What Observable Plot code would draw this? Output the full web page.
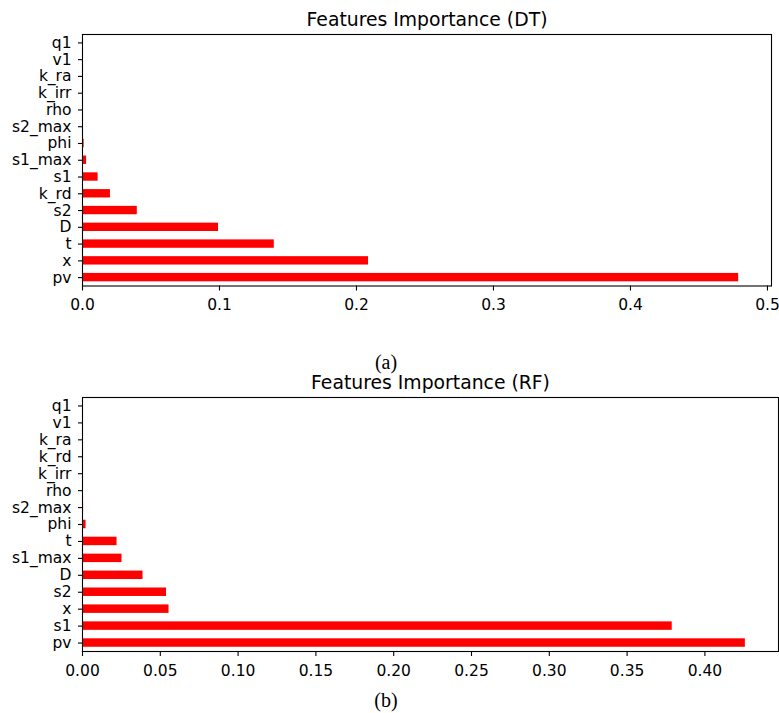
<!DOCTYPE html>
<html><head><meta charset="utf-8">
<script src="https://cdn.jsdelivr.net/npm/d3@7"></script>
<script src="https://cdn.jsdelivr.net/npm/@observablehq/plot@0.6"></script>
<style>
body{margin:0;background:#fff;}
#wrap{position:relative;width:779px;height:713px;background:#fff;}
.chart{position:absolute;left:0;}
.cap{position:absolute;font-family:"Liberation Serif","DejaVu Serif",serif;font-size:20px;line-height:20px;transform:translateX(-50%);white-space:nowrap;color:#000;}
</style></head><body><div id="wrap"></div>
<script>
// Decision Tree feature importances (top to bottom)
const featuresDT = ["q1","v1","k_ra","k_irr","rho","s2_max","phi","s1_max","s1","k_rd","s2","D","t","x","pv"];
const valuesDT   = [0.0,0.0,0.0,0.0,0.0002,0.0003,0.0012,0.003,0.0114,0.0204,0.040,0.0993,0.140,0.2088,0.479];
const ticksDT = [0,0.1,0.2,0.3,0.4,0.5];

// Random Forest feature importances (top to bottom)
const featuresRF = ["q1","v1","k_ra","k_rd","k_irr","rho","s2_max","phi","t","s1_max","D","s2","x","s1","pv"];
const valuesRF   = [0.0001,0.0001,0.0002,0.0002,0.0002,0.0003,0.0007,0.0023,0.0222,0.0254,0.0389,0.054,0.0556,0.379,0.426];
const ticksRF = [0,0.05,0.10,0.15,0.20,0.25,0.30,0.35,0.40];

const titleDT = "Features Importance (DT)";
const titleRF = "Features Importance (RF)";

function chart({features, values, ticks, fmt, title, height, marginTop, marginBottom, marginRight}) {
  const data = features.map((f, i) => ({feature: f, value: values[i]}));
  const xmax = d3.max(values) * 1.05;
  return Plot.plot({
    width: 779,
    height,
    marginLeft: 82,
    marginRight,
    marginTop,
    marginBottom,
    style: {fontFamily: "DejaVu Sans", fontSize: "15.5px", color: "#000", background: "#fff"},
    x: {domain: [0, xmax], label: null},
    y: {type: "band", domain: features, paddingInner: 0.5, paddingOuter: 0.25, round: false, label: null},
    marks: [
      Plot.barX(data, {x: "value", y: "feature", fill: "#ff0000"}),
      Plot.frame({stroke: "#000", strokeWidth: 1.1}),
      Plot.axisX({ticks, tickFormat: d3.format(fmt), tickSize: 5, tickPadding: 8, label: null, strokeWidth: 1.1}),
      Plot.axisY({tickSize: 4, tickPadding: 7, label: null, strokeWidth: 1.1}),
      Plot.text([title], {frameAnchor: "top", dy: -9, lineAnchor: "bottom", fontSize: 18.8, fill: "#000"})
    ]
  });
}

const wrap = document.getElementById("wrap");

const c1 = chart({features: featuresDT, values: valuesDT, ticks: ticksDT, fmt: ".1f", title: titleDT,
  height: 340, marginTop: 34, marginBottom: 340 - 285.5, marginRight: 8});
c1.classList.add("chart"); c1.style.top = "0px";
wrap.appendChild(c1);

const c2 = chart({features: featuresRF, values: valuesRF, ticks: ticksRF, fmt: ".2f", title: titleRF,
  height: 343, marginTop: 27, marginBottom: 62, marginRight: 1});
c2.classList.add("chart"); c2.style.top = "370px";
wrap.appendChild(c2);

const capA = document.createElement("div");
capA.className = "cap"; capA.textContent = "(a)"; capA.style.left = "386px"; capA.style.top = "352px";
wrap.appendChild(capA);
const capB = document.createElement("div");
capB.className = "cap"; capB.textContent = "(b)"; capB.style.left = "386px"; capB.style.top = "690px";
wrap.appendChild(capB);
</script></body></html>
